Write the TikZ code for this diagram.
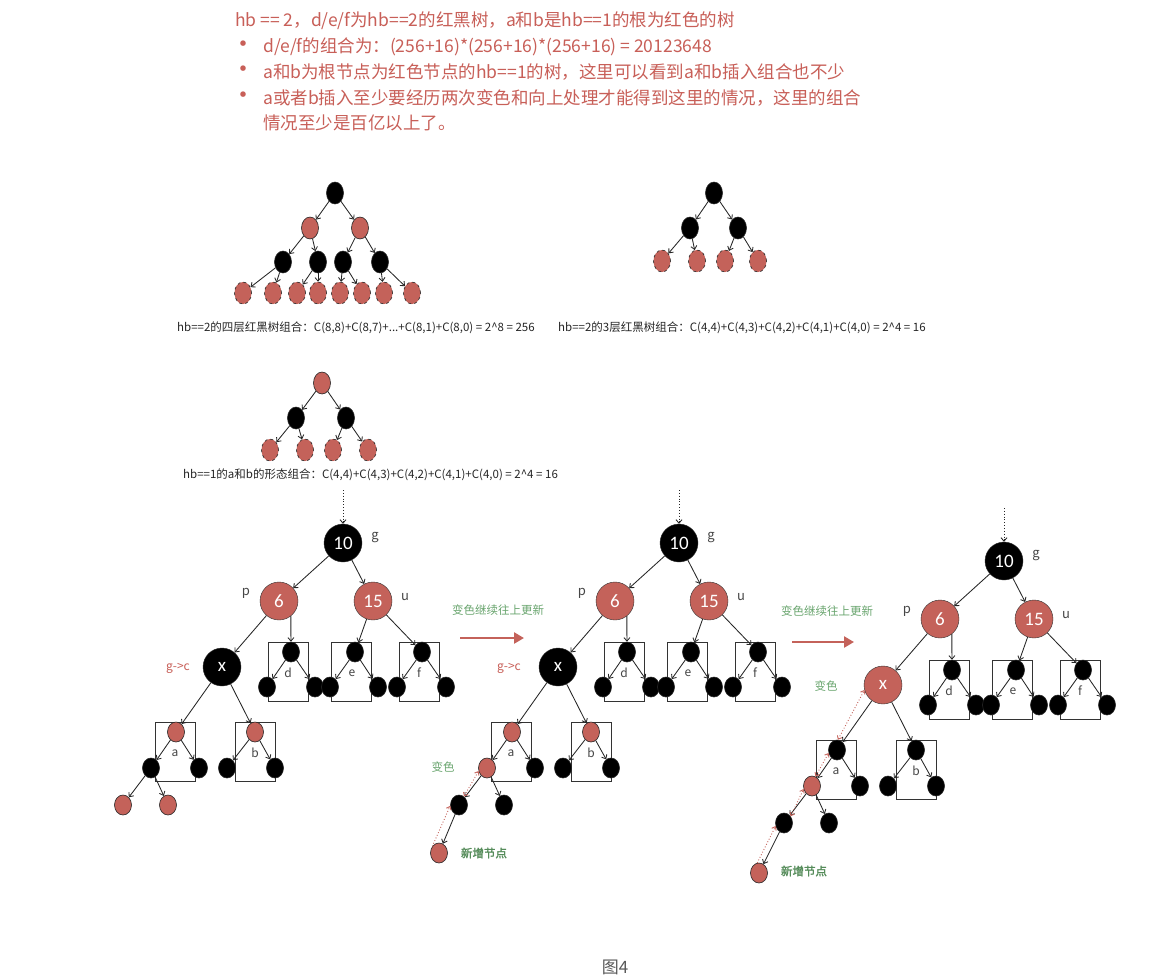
\documentclass[tikz,border=0pt]{standalone}
\usepackage{fontspec}
\setmainfont{Noto Sans CJK SC}
\newfontfamily\numfont{Carlito}
\newfontfamily\cjkb[FakeBold=2]{Noto Sans CJK SC}
\usetikzlibrary{shapes.geometric,arrows.meta}
\definecolor{rbred}{RGB}{196,98,90}
\definecolor{txtred}{RGB}{200,95,88}
\definecolor{grn}{RGB}{105,165,110}
\definecolor{dgrn}{RGB}{85,140,90}
\definecolor{gtxt}{RGB}{70,70,70}
\newcommand\rbtree[6]{%
  \node[boxst] (#1dbox) at (288,671.5) {};
  \node[boxst] (#1ebox) at (351.5,671.5) {};
  \node[boxst] (#1fbox) at (419,671.5) {};
  \node[boxst] (#1abox) at (175,751.5) {};
  \node[boxst] (#1bbox) at (255.5,751.5) {};
  \node[blbl] (#1dlab) at (288,673) {d};
  \node[blbl] (#1elab) at (352,673) {e};
  \node[blbl] (#1flab) at (419,673) {f};
  \node[blbl] (#1alab) at (175,753) {a};
  \node[blbl] (#1blab) at (255,753) {b};
  \coordinate (#1top) at (343,490);
  \node[big] (#1g) at (343,543) {10};
  \node[lbl] (#1gl) at (375,537) {g};
  \node[bigr] (#1p) at (279,601) {6};
  \node[lbl] (#1pl) at (246,593) {p};
  \node[bigr] (#1u) at (373,601) {15};
  \node[lbl] (#1ul) at (405,597) {u};
  \node[#2] (#1x) at (222,667) {x};
  \node[nb] (#1dt) at (291,652) {};
  \node[nb] (#1dL) at (267,687) {};
  \node[nb] (#1dR) at (315,687) {};
  \node[nb] (#1et) at (355,652) {};
  \node[nb] (#1eL) at (330,687) {};
  \node[nb] (#1eR) at (378,687) {};
  \node[nb] (#1ft) at (422,652) {};
  \node[nb] (#1fL) at (397,687) {};
  \node[nb] (#1fR) at (446,687) {};
  \node[#3] (#1at) at (176,732) {};
  \node[#4] (#1aL) at (151,768) {};
  \node[nb] (#1aR) at (199,768) {};
  \node[#5] (#1bt) at (255,732) {};
  \node[nb] (#1bL) at (227,768) {};
  \node[nb] (#1bR) at (275,768) {};
  \node[#6] (#1c1) at (123,805) {};
  \node[#6] (#1c2) at (168,805) {};
  \draw[arr, dotted] (#1top) -- (#1g);
  \draw[arr] (#1g) -- (#1p);
  \draw[arr] (#1g) -- (#1u);
  \draw[arr] (#1p) -- (#1x);
  \draw[arr] (#1p.-52) -- (#1dt);
  \draw[arr] (#1u) -- (#1et);
  \draw[arr] (#1u) -- (#1ft);
  \foreach \s/\t in {dt/dL,dt/dR,et/eL,et/eR,ft/fL,ft/fR,x/at,x/bt,at/aL,at/aR,bt/bL,bt/bR,aL/c1,aL/c2}
    \draw[arr] (#1\s) -- (#1\t);
}
\begin{document}
\begin{tikzpicture}[x=1pt,y=-1pt,
  arr/.style={draw=black!85, line width=0.85pt, -{Straight Barb[length=3.5pt,width=6pt]}},
  sb/.style={ellipse, draw=black!85, fill=black, minimum width=17pt, minimum height=22pt, inner sep=0pt, line width=0.6pt},
  sr/.style={sb, fill=rbred},
  sd/.style={sr, dashed},
  nb/.style={ellipse, draw=black!85, fill=black, minimum width=17pt, minimum height=20pt, inner sep=0pt, line width=0.6pt},
  nr/.style={nb, fill=rbred},
  big/.style={circle, draw=black!80, fill=black, minimum size=38pt, inner sep=0pt, text=white, font=\numfont\fontsize{19}{19}\selectfont},
  bigr/.style={big, fill=rbred},
  boxst/.style={draw=black!80, line width=0.9pt, minimum width=40pt, minimum height=59pt, inner sep=0pt},
  lbl/.style={text=gtxt, font=\fontsize{13}{13}\selectfont, inner sep=0pt},
  blbl/.style={text=gtxt, font=\fontsize{12}{12}\selectfont, inner sep=0pt},
  toptext/.style={text=txtred, font=\fontsize{17.5}{20}\selectfont, inner sep=0pt, anchor=west},
  bul/.style={text=txtred, font=\fontsize{26}{26}\selectfont, inner sep=0pt},
  captxt/.style={text=black!85, font=\fontsize{11.5}{13}\selectfont, inner sep=0pt, anchor=west},
  gtext/.style={text=grn, font=\fontsize{11.5}{13}\selectfont, inner sep=0pt},
  ntext/.style={text=dgrn, font=\cjkb\fontsize{11.5}{13}\selectfont, inner sep=0pt},
  reddot/.style={draw=rbred, dotted, line width=0.9pt, -{Straight Barb[length=3pt,width=5pt]}},
  redboth/.style={reddot, {Straight Barb[length=3pt,width=5pt]}-{Straight Barb[length=3pt,width=5pt]}},
  bigarr/.style={draw=rbred, line width=2.5pt, -{Triangle[length=10pt,width=11pt]}}
]
\useasboundingbox (0,0) rectangle (1168,980);
\fill[white] (0,0) rectangle (1168,980);

% top text
\node[toptext] (t1) at (235,21) {hb == 2，d/e/f为hb==2的红黑树，a和b是hb==1的根为红色的树};
\node[bul] (k1) at (243,47) {•};
\node[toptext] (t2) at (263,47) {d/e/f的组合为：(256+16)*(256+16)*(256+16) = 20123648};
\node[bul] (k2) at (243,72) {•};
\node[toptext] (t3) at (263,72) {a和b为根节点为红色节点的hb==1的树，这里可以看到a和b插入组合也不少};
\node[bul] (k3) at (243,98) {•};
\node[toptext] (t4) at (263,98) {a或者b插入至少要经历两次变色和向上处理才能得到这里的情况，这里的组合};
\node[toptext] (t5) at (263,123) {情况至少是百亿以上了。};

% tree A
\node[sb] (A0) at (335,193) {};
\node[sr] (A1) at (310,228) {};
\node[sr] (A2) at (360,228) {};
\node[sb] (A3) at (283,262) {};
\node[sb] (A4) at (318,262) {};
\node[sb] (A5) at (343,262) {};
\node[sb] (A6) at (380,262) {};
\node[sd] (A7) at (243,293) {};
\node[sd] (A8) at (273,293) {};
\node[sd] (A9) at (297,293) {};
\node[sd] (A10) at (318,293) {};
\node[sd] (A11) at (340,293) {};
\node[sd] (A12) at (362,293) {};
\node[sd] (A13) at (384,293) {};
\node[sd] (A14) at (412,293) {};
\foreach \a/\b in {A0/A1,A0/A2,A1/A3,A1/A4,A2/A5,A2/A6,A3/A7,A3/A8,A4/A9,A4/A10,A5/A11,A5/A12,A6/A13,A6/A14}
  \draw[arr] (\a) -- (\b);

% tree B
\node[sb] (B0) at (714,193) {};
\node[sb] (B1) at (690,228) {};
\node[sb] (B2) at (738,228) {};
\node[sd] (B3) at (662,261) {};
\node[sd] (B4) at (697,261) {};
\node[sd] (B5) at (725,261) {};
\node[sd] (B6) at (758,261) {};
\foreach \a/\b in {B0/B1,B0/B2,B1/B3,B1/B4,B2/B5,B2/B6}
  \draw[arr] (\a) -- (\b);

\node[captxt] (cap1) at (177,328) {hb==2的四层红黑树组合：C(8,8)+C(8,7)+...+C(8,1)+C(8,0) = 2\textasciicircum 8 = 256};
\node[captxt] (cap2) at (558,328) {hb==2的3层红黑树组合：C(4,4)+C(4,3)+C(4,2)+C(4,1)+C(4,0) = 2\textasciicircum 4 = 16};

% tree C
\node[sr] (C0) at (322,383) {};
\node[sb] (C1) at (296,418) {};
\node[sb] (C2) at (346,418) {};
\node[sd] (C3) at (270,450) {};
\node[sd] (C4) at (305,450) {};
\node[sd] (C5) at (333,450) {};
\node[sd] (C6) at (368,450) {};
\foreach \a/\b in {C0/C1,C0/C2,C1/C3,C1/C4,C2/C5,C2/C6}
  \draw[arr] (\a) -- (\b);
\node[captxt] (cap3) at (183,475) {hb==1的a和b的形态组合：C(4,4)+C(4,3)+C(4,2)+C(4,1)+C(4,0) = 2\textasciicircum 4 = 16};

% big tree 1
\begin{scope}
  \rbtree{T1}{big}{nr}{nb}{nr}{nr}
\end{scope}
\node[text=txtred, font=\fontsize{12}{12}\selectfont, inner sep=0pt] (gc1) at (178,668) {g->c};

% arrow 1
\coordinate (ar1s) at (460,638);
\coordinate (ar1e) at (524,638);
\draw[bigarr] (ar1s) -- (ar1e);
\node[gtext] (m1) at (498,610) {变色继续往上更新};

% big tree 2
\begin{scope}[shift={(336,0)}]
  \rbtree{T2}{big}{nr}{nr}{nr}{nb}
\end{scope}
\node[text=txtred, font=\fontsize{12}{12}\selectfont, inner sep=0pt] (gc2) at (509,668) {g->c};
\node[nr] (T2new) at (439,853) {};
\draw[arr] (T2c1) -- (T2new);
\draw[reddot] (T2new.135) -- (T2c1.185);
\draw[redboth] (T2c1.60) -- (T2aL.200);
\node[gtext] (bs2) at (443,767) {变色};
\node[ntext] (nn2) at (484,853) {新增节点};

% arrow 2
\coordinate (ar2s) at (792,642);
\coordinate (ar2e) at (854,642);
\draw[bigarr] (ar2s) -- (ar2e);
\node[gtext] (m2) at (827,611) {变色继续往上更新};

% big tree 3
\begin{scope}[shift={(661,18)}]
  \rbtree{T3}{bigr}{nb}{nr}{nb}{nb}
\end{scope}
\node[nr] (T3new) at (759,873) {};
\draw[arr] (T3c1) -- (T3new);
\draw[reddot] (T3new.100) -- (T3c1.200);
\draw[redboth] (T3c1.45) -- (T3aL.200);
\draw[redboth] (T3aL.70) -- (T3at.200);
\draw[redboth] (T3at.85) -- (T3x.195);
\node[gtext] (bs3) at (826,686) {变色};
\node[ntext] (nn3) at (804,871) {新增节点};

\node[text=black!65, font=\fontsize{17}{17}\selectfont, inner sep=0pt] (fig) at (615,967) {图4};
\end{tikzpicture}
\end{document}
